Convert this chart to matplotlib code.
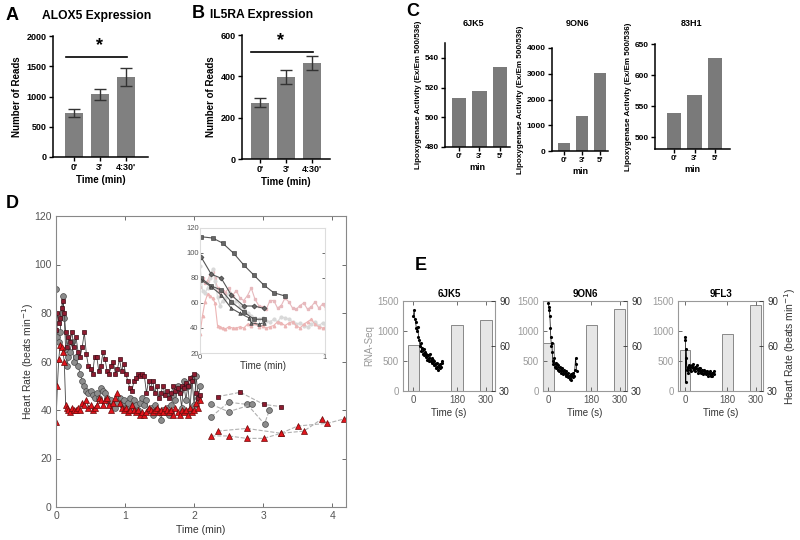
import matplotlib
matplotlib.use("Agg")
import matplotlib.pyplot as plt

plt.rcParams['font.family'] = ['Liberation Sans', 'DejaVu Sans']

# ---- panel A / B : read counts
ab_labels = ["0'", "3'", "4:30'"]
alox5_reads = [730, 1040, 1320]
alox5_err = [70, 90, 145]
il5ra_reads = [272, 397, 465]
il5ra_err = [22, 32, 32]

# ---- panel C : lipoxygenase activity
c_labels = ["0'", "3'", "5'"]
c_names = ["6JK5", "9ON6", "83H1"]
lox_6jk5 = [513, 518, 534]
lox_9on6 = [300, 1350, 3030]
lox_83h1 = [539, 568, 627]

# ---- panel D : heart rate traces (min, beats/min)
d_time = [0, .02, .04, .06, .08, .10, .12, .14, .16, .18, .20,
          .23, .26, .29, .32, .35, .38, .41, .44, .47, .50, .53,
          .56, .59, .62, .65, .68, .71, .74, .77, .80, .83,
          .86, .89, .92, .95, .98, 1.01, 1.04, 1.07, 1.10, 1.13,
          1.16, 1.19, 1.22, 1.25, 1.28, 1.31, 1.34, 1.37, 1.40, 1.43,
          1.46, 1.49, 1.52, 1.55, 1.58, 1.61, 1.64, 1.67, 1.70, 1.73,
          1.76, 1.79, 1.82, 1.85, 1.88, 1.91, 1.94, 1.97, 2.00, 2.03,
          2.06, 2.09]
hr_squares = [73, 80, 76, 78, 82, 85, 80, 72, 66, 70, 68,
              72, 66, 70, 64, 62, 66, 72, 63, 58, 57, 55,
              62, 62, 56, 58, 64, 61, 56, 55, 58, 60,
              55, 57, 61, 56, 59, 55, 52, 49, 48, 52,
              53, 55, 54, 55, 54, 47, 52, 49, 52, 47,
              50, 45, 47, 50, 46, 48, 45, 47, 50, 48,
              49, 47, 50, 49, 51, 50, 53, 52, 55, 47,
              45, 46]
hr_circles = [90, 70, 68, 72, 80, 87, 78, 65, 58, 62, 64,
              68, 60, 62, 58, 55, 52, 50, 48, 47, 48, 46,
              45, 47, 45, 49, 48, 47, 45, 43, 44, 42,
              41, 43, 45, 42, 44, 41, 43, 45, 41, 44,
              42, 40, 43, 45, 42, 44, 40, 41, 38, 42,
              40, 39, 36, 40, 39, 41, 38, 42, 46, 44,
              50, 48, 41, 52, 44, 50, 40, 53, 42, 54,
              45, 50]
hr_triangles = [35, 50, 61, 67, 66, 64, 60, 42, 41, 40, 39,
                41, 40, 40, 41, 40, 43, 42, 44, 41, 42, 40,
                41, 42, 45, 44, 42, 44, 45, 42, 40, 43,
                45, 47, 43, 41, 40, 41, 39, 40, 42, 40,
                39, 40, 38, 39, 38, 39, 41, 40, 39, 40,
                41, 39, 40, 39, 41, 40, 39, 40, 38, 41,
                39, 38, 40, 39, 40, 38, 41, 39, 40, 43,
                41, 44]

# sparse later recordings (dashed)
late_sq_t = [2.34, 2.67, 3.01, 3.26]
late_sq_hr = [45.5, 47.3, 42.3, 41.4]
late_ci1_t = [2.25, 2.50, 2.77, 3.02, 3.09]
late_ci1_hr = [37.2, 43.2, 42.3, 34.2, 40.0]
late_ci2_t = [2.25, 2.50, 2.84]
late_ci2_hr = [42.3, 39.3, 42.3]
late_tr1_t = [2.25, 2.50, 2.76, 3.01, 3.26, 3.50, 3.93, 4.17]
late_tr1_hr = [29.3, 29.3, 28.3, 28.3, 30.4, 33.4, 34.5, 36.3]
late_tr2_t = [2.34, 2.76, 3.26, 3.59, 3.85]
late_tr2_hr = [31.3, 32.4, 30.4, 31.3, 36.3]

# inset traces
in1_t = [0.01, 0.10, 0.18, 0.27, 0.35, 0.43, 0.51, 0.59, 0.68]
in1_hr = [113, 112, 108, 99.7, 90.4, 82.4, 74.4, 68.2, 65.6]
in2_t = [0.01, 0.09, 0.17, 0.25, 0.35, 0.43, 0.51]
in2_hr = [96.6, 83, 79.8, 66.4, 57.6, 57.6, 55.8]
in3_t = [0.01, 0.09, 0.17, 0.25, 0.35, 0.43, 0.51]
in3_hr = [79.8, 73.6, 70.4, 61, 53, 47, 47]
in4_t = [0.01, 0.09, 0.17, 0.25, 0.32, 0.39, 0.41, 0.47, 0.51]
in4_hr = [78.4, 73, 66.4, 55.8, 51.8, 48.2, 44.2, 43, 44.2]

# ---- panel E : RNA-seq bars + heart rate
e_names = ["6JK5", "9ON6", "9FL3"]
e_bar_time = [0, 180, 300]
e_rna_6jk5 = [762, 1095, 1178]
e_rna_9on6 = [800, 1107, 1373]
e_rna_9fl3 = [678, 945, 1428]
e_t_6jk5 = [0, 3, 6, 9, 12, 15, 18, 21, 24, 27, 30, 33, 36, 39, 42, 45, 48, 51,
            54, 57, 60, 63, 66, 69, 72, 75, 78, 81, 84, 87, 90, 93, 96, 99, 102,
            105, 108, 111, 114, 117, 120]
e_hr_6jk5 = [80, 84, 78, 76, 72, 70, 73, 66, 64, 60, 62, 57, 59, 55, 58, 54, 56,
             53, 55, 51, 54, 50, 52, 55, 50, 52, 49, 51, 47, 50, 48, 45, 49, 46,
             44, 47, 45, 48, 46, 49, 50]
e_t_9on6 = [0, 2, 4, 6, 8, 10, 12, 14, 16, 18, 21, 24, 27, 30, 33, 36, 39, 42,
            45, 48, 51, 54, 57, 60, 63, 66, 69, 72, 75, 78, 81, 84, 87, 90, 93,
            96, 99, 102, 105, 108, 111, 114, 117, 120]
e_hr_9on6 = [89, 86, 84, 80, 72, 66, 60, 62, 56, 50, 48, 52, 46, 49, 45, 48, 44,
             47, 43, 46, 44, 42, 45, 43, 41, 44, 42, 40, 43, 41, 39, 42, 40, 38,
             41, 37, 40, 39, 42, 40, 44, 52, 48, 43]
e_t_9fl3 = [0, 1, 2, 3, 5, 8, 11, 14, 17, 20, 23, 26, 29, 32, 35, 38, 41, 44, 47,
            50, 53, 56, 59, 62, 65, 68, 71, 74, 77, 80, 83, 86, 89, 92, 95, 98,
            101, 104, 107, 110, 113, 116, 119, 122, 125]
e_hr_9fl3 = [66, 64, 52, 36, 58, 44, 46, 42, 47, 44, 46, 43, 47, 45, 48, 44, 46,
             43, 45, 47, 44, 42, 45, 43, 45, 42, 44, 43, 41, 44, 42, 43, 41, 43,
             42, 40, 42, 41, 43, 40, 42, 40, 42, 41, 43]


def box(x0, y0, x1, y1):
    # pixel box (top-left origin) -> figure fraction
    return [x0 / 800, 1 - y1 / 540, (x1 - x0) / 800, (y1 - y0) / 540]


def prism_axes(ax):
    for s in ['top', 'right']:
        ax.spines[s].set_visible(False)
    for s in ['left', 'bottom']:
        ax.spines[s].set_linewidth(1.1)
    ax.tick_params(length=3, width=1, labelsize=6.5, pad=1.5)
    for lab in ax.get_xticklabels() + ax.get_yticklabels():
        lab.set_fontweight('bold')


def matlab_axes(ax, size=7.5, color='#888888'):
    for s in ax.spines.values():
        s.set_color(color)
        s.set_linewidth(0.8)
    ax.tick_params(direction='in', top=True, right=True, length=3,
                   width=0.6, labelsize=size, colors='#555555', pad=3)


fig = plt.figure(figsize=(8, 5.4), dpi=100)

# ================= A
ax = fig.add_axes(box(53, 36, 148, 157))
ax.bar(range(3), alox5_reads, 0.68, color='#808080')
ax.errorbar(range(3), alox5_reads, yerr=alox5_err, fmt='none', ecolor='#333333',
            elinewidth=1, capsize=4, capthick=1)
ax.plot([-0.3, 2.04], [1650, 1650], color='black', lw=1.2)
ax.text(1.0, 1700, '*', ha='center', va='bottom', fontsize=13, fontweight='bold')
ax.set_xlim(-0.8, 2.85)
ax.set_ylim(0, 2000)
ax.set_yticks([0, 500, 1000, 1500, 2000])
ax.set_xticks(range(3))
ax.set_xticklabels(ab_labels)
ax.set_ylabel('Number of Reads', fontsize=7, fontweight='bold', labelpad=3)
ax.set_xlabel('Time (min)', fontsize=7, fontweight='bold', labelpad=2)
prism_axes(ax)
fig.text(97 / 800, 1 - 16 / 540, 'ALOX5 Expression', ha='center', va='center',
         fontsize=8.7, fontweight='bold')
fig.text(12 / 800, 1 - 15 / 540, 'A', ha='center', va='center', fontsize=13,
         fontweight='bold')

# ================= B
ax = fig.add_axes(box(242, 35, 330, 159))
ax.bar(range(3), il5ra_reads, 0.68, color='#808080')
ax.errorbar(range(3), il5ra_reads, yerr=il5ra_err, fmt='none', ecolor='#333333',
            elinewidth=1, capsize=4, capthick=1)
ax.plot([-0.35, 2.04], [518, 518], color='black', lw=1.2)
ax.text(0.8, 530, '*', ha='center', va='bottom', fontsize=13, fontweight='bold')
ax.set_xlim(-0.7, 2.7)
ax.set_ylim(0, 600)
ax.set_yticks([0, 200, 400, 600])
ax.set_xticks(range(3))
ax.set_xticklabels(ab_labels)
ax.set_ylabel('Number of Reads', fontsize=7, fontweight='bold', labelpad=3)
ax.set_xlabel('Time (min)', fontsize=7, fontweight='bold', labelpad=2)
prism_axes(ax)
fig.text(262 / 800, 1 - 15 / 540, 'IL5RA Expression', ha='center', va='center',
         fontsize=8.7, fontweight='bold')
fig.text(198 / 800, 1 - 14 / 540, 'B', ha='center', va='center', fontsize=13,
         fontweight='bold')

# ================= C
c_boxes = [(445, 43, 510, 147), (552, 48, 608, 151), (655, 44, 730, 149)]
c_vals = [lox_6jk5, lox_9on6, lox_83h1]
c_ylims = [(480, 550), (0, 4000), (481, 650)]
c_yticks = [[480, 500, 520, 540], [0, 1000, 2000, 3000, 4000], [500, 550, 600, 650]]
c_xlims = [(-0.68, 2.49), (-0.67, 2.44), (-0.93, 2.73)]
c_title_x = [473, 578, 692]
for i in range(3):
    ax = fig.add_axes(box(*c_boxes[i]))
    ax.bar(range(3), c_vals[i], 0.7, color='#7a7a7a', bottom=0)
    ax.set_ylim(*c_ylims[i])
    ax.set_xlim(*c_xlims[i])
    ax.set_yticks(c_yticks[i])
    ax.set_xticks(range(3))
    ax.set_xticklabels(c_labels)
    ax.set_xlabel('min', fontsize=6.5, fontweight='bold', labelpad=2)
    ax.set_ylabel('Lipoxygenase Activity (Ex/Em 500/536)', fontsize=5.8,
                  fontweight='bold', labelpad=2)
    prism_axes(ax)
    ax.tick_params(labelsize=6)
    fig.text(c_title_x[i] / 800, 1 - 24 / 540, c_names[i], ha='center',
             va='center', fontsize=6.5, fontweight='bold')
fig.text(413 / 800, 1 - 11 / 540, 'C', ha='center', va='center', fontsize=13,
         fontweight='bold')

# ================= D
ax = fig.add_axes(box(56, 216, 346, 507))
sq_kw = dict(marker='s', ms=3.4, mfc='#8e1b30', mec='#3a0a12', mew=0.5)
ci_kw = dict(marker='o', ms=4.2, mfc='#8c8c8c', mec='#4a4a4a', mew=0.5)
tr_kw = dict(marker='^', ms=3.8, mfc='#e3141c', mec='#6a0a0a', mew=0.5)
ax.plot(d_time, hr_circles, color='#444444', lw=0.6, **ci_kw)
ax.plot(d_time, hr_squares, color='#444444', lw=0.6, **sq_kw)
ax.plot(d_time, hr_triangles, color='#444444', lw=0.6, **tr_kw)
dash = dict(ls='--', color='#b0b0b0', lw=0.8)
ax.plot(late_sq_t, late_sq_hr, **dash, **sq_kw)
ax.plot(late_ci1_t, late_ci1_hr, **dash, **ci_kw)
ax.plot(late_ci2_t, late_ci2_hr, **dash, **ci_kw)
ax.plot(late_tr1_t, late_tr1_hr, **dash, **tr_kw)
ax.plot(late_tr2_t, late_tr2_hr, **dash, **tr_kw)
ax.set_xlim(0, 4.2)
ax.set_ylim(0, 120)
ax.set_xticks([0, 1, 2, 3, 4])
ax.set_yticks([0, 20, 40, 60, 80, 100, 120])
matlab_axes(ax, size=7.5)
ax.set_xlabel('Time (min)', fontsize=7.5, color='#333333', labelpad=3)
ax.set_ylabel('Heart Rate (beats min$^{-1}$)', fontsize=7.5, color='#333333')
ax.yaxis.set_label_coords(-0.07, 0.5)
fig.text(12 / 800, 1 - 203 / 540, 'D', ha='center', va='center', fontsize=13,
         fontweight='bold')

# inset
ins = fig.add_axes(box(200, 228, 325, 353))
n1 = 39  # points within first minute
ins.plot(d_time[:n1], hr_squares[:n1], color='#e7b9bd', lw=0.8, marker='s',
         ms=1.6, mfc='#e7b9bd', mec='#e7b9bd')
ins.plot(d_time[:n1], hr_circles[:n1], color='#d9d9d9', lw=0.8, marker='o',
         ms=2, mfc='#d9d9d9', mec='#d9d9d9')
ins.plot(d_time[:n1], hr_triangles[:n1], color='#ecb5b5', lw=0.8, marker='^',
         ms=1.8, mfc='#ecb5b5', mec='#ecb5b5')
ink = dict(color='#555555', lw=0.8, mfc='#666666', mec='#333333', mew=0.4)
ins.plot(in1_t, in1_hr, marker='s', ms=2.2, **ink)
ins.plot(in2_t, in2_hr, marker='D', ms=2.6, **ink)
ins.plot(in3_t, in3_hr, marker='s', ms=2.2, **ink)
ins.plot(in4_t, in4_hr, marker='^', ms=2.6, **ink)
ins.set_xlim(0, 1)
ins.set_ylim(20, 120)
ins.set_xticks([0, 1])
ins.set_yticks([20, 40, 60, 80, 100, 120])
matlab_axes(ins, size=5.5, color='#dddddd')
ins.tick_params(pad=1, length=2)
ins.set_xlabel('Time (min)', fontsize=7, color='#333333', labelpad=0)

# ================= E
e_boxes = [(403, 301, 495, 391), (543, 301, 627, 391), (678, 301, 763, 391)]
e_xlims = [(-43, 337), (-23, 331), (-30, 331)]
e_rna = [e_rna_6jk5, e_rna_9on6, e_rna_9fl3]
e_t = [e_t_6jk5, e_t_9on6, e_t_9fl3]
e_hr = [e_hr_6jk5, e_hr_9on6, e_hr_9fl3]
for i in range(3):
    ax = fig.add_axes(box(*e_boxes[i]))
    ax.bar(e_bar_time, e_rna[i], 46, color='#e6e6e6', edgecolor='#777777',
           lw=0.6)
    ax.set_xlim(*e_xlims[i])
    ax.set_ylim(0, 1500)
    ax.set_yticks([0, 500, 1000, 1500])
    ax.set_xticks(e_bar_time)
    matlab_axes(ax, size=7, color='#999999')
    ax.tick_params(right=False, labelcolor='#555555')
    ax.tick_params(axis='y', labelcolor='#9a9a9a')
    ax.set_xlabel('Time (s)', fontsize=7, color='#333333', labelpad=2)
    ax.set_title(e_names[i], fontsize=7, fontweight='bold', pad=3)
    if i == 0:
        ax.set_ylabel('RNA-Seq', fontsize=7, color='#9a9a9a', labelpad=2)
    tw = ax.twinx()
    tw.plot(e_t[i], e_hr[i], color='black', lw=0.5, marker='.', ms=2.5)
    tw.set_ylim(30, 90)
    tw.set_yticks([30, 60, 90])
    for s in tw.spines.values():
        s.set_visible(False)
    tw.tick_params(direction='in', length=3, width=0.6, labelsize=7,
                   colors='#333333', pad=3)
    if i == 2:
        tw.set_ylabel('Heart Rate (beats min$^{-1}$)', fontsize=7.5,
                      color='#333333', labelpad=3)
fig.text(421 / 800, 1 - 266 / 540, 'E', ha='center', va='center', fontsize=13,
         fontweight='bold')

fig.savefig('out.png', dpi=100)
